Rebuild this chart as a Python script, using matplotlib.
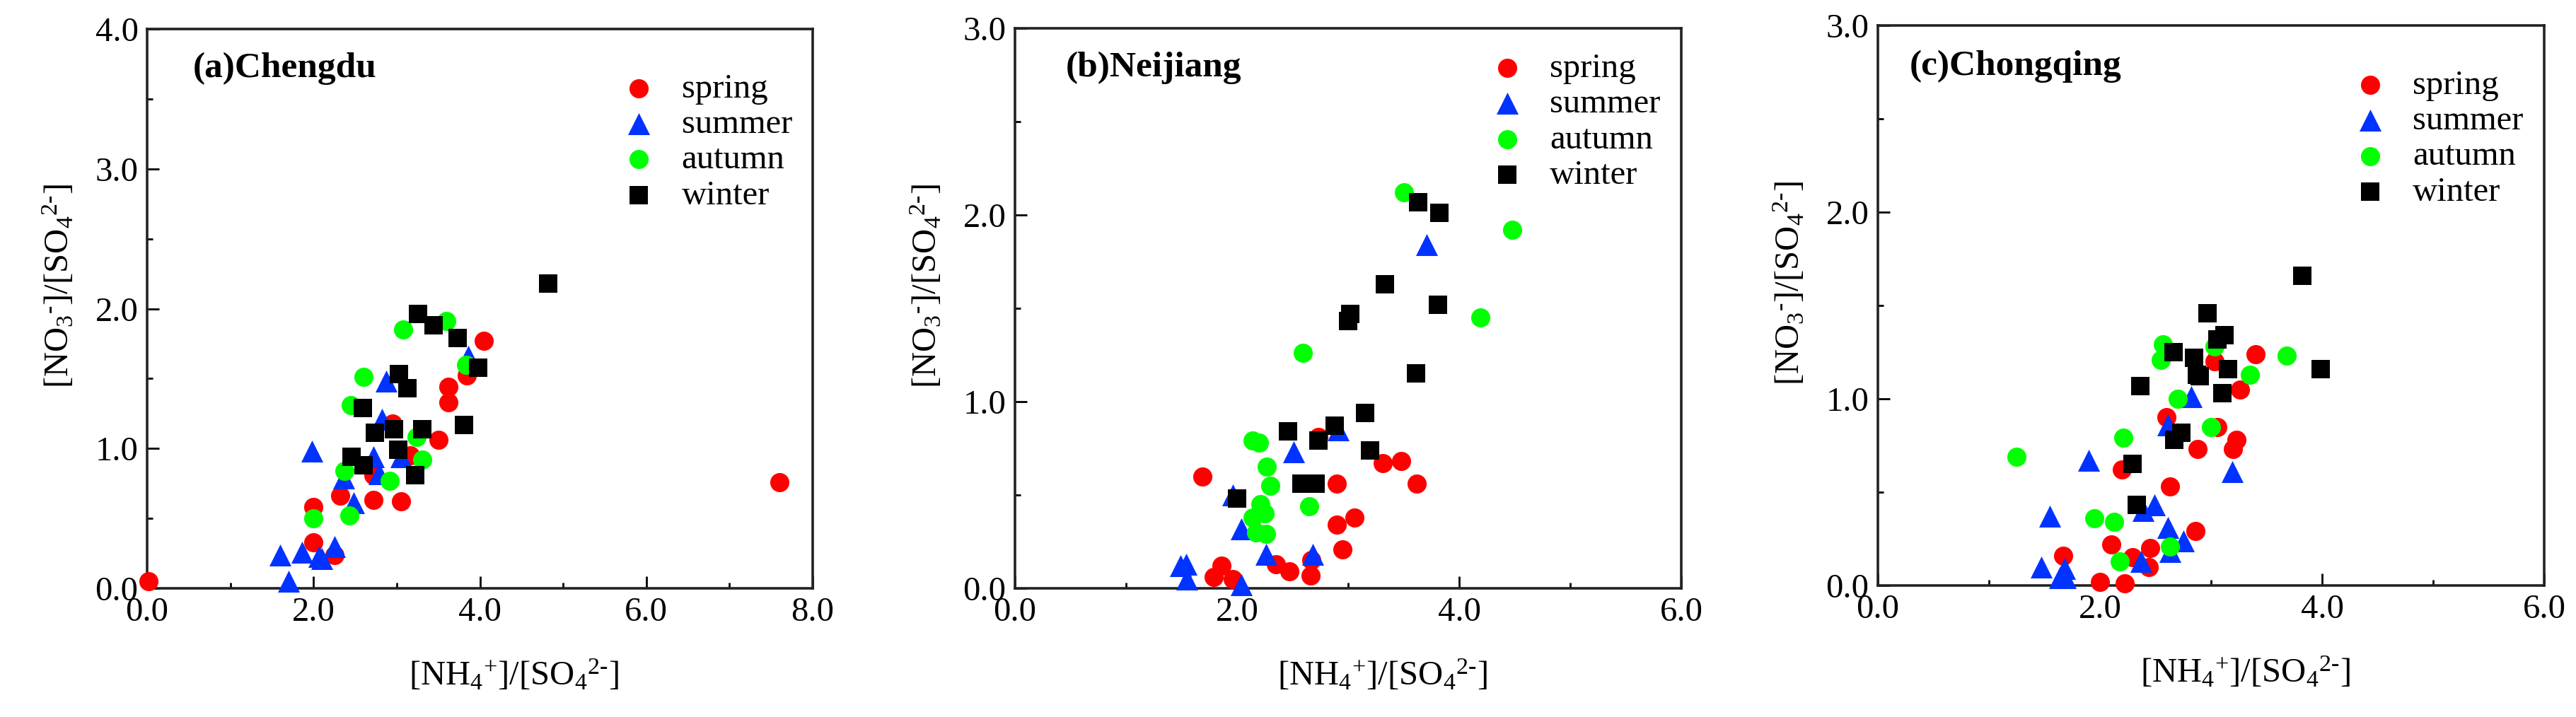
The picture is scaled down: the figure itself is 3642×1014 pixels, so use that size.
import matplotlib
matplotlib.use('Agg')
import matplotlib.pyplot as plt
from matplotlib.ticker import MultipleLocator, FormatStrFormatter

plt.rcParams['font.family'] = ['Liberation Serif', 'DejaVu Serif']
plt.rcParams['mathtext.fontset'] = 'custom'
plt.rcParams['mathtext.rm'] = 'Liberation Serif'
plt.rcParams['mathtext.default'] = 'regular'

seasons = ['spring', 'summer', 'autumn', 'winter']

# (a) Chengdu
cd_spring_x = [0.02, 7.6, 4.05, 3.84, 3.62, 3.62, 3.5, 3.16, 3.05, 2.72, 2.72, 2.32, 2.0, 2.0, 2.25, 2.95]
cd_spring_y = [0.05, 0.76, 1.77, 1.52, 1.44, 1.33, 1.06, 0.95, 0.62, 0.63, 0.81, 0.66, 0.58, 0.33, 0.24, 1.18]
cd_summer_x = [1.6, 1.7, 1.86, 2.07, 2.1, 2.25, 1.98, 2.36, 2.48, 2.72, 2.79, 2.82, 2.87, 3.05, 3.86]
cd_summer_y = [0.24, 0.05, 0.26, 0.23, 0.21, 0.30, 0.98, 0.79, 0.61, 0.94, 0.82, 1.21, 1.48, 0.94, 1.66]
cd_autumn_x = [2.0, 2.43, 2.37, 2.45, 2.6, 2.92, 3.08, 3.24, 3.31, 3.6, 3.83]
cd_autumn_y = [0.50, 0.52, 0.84, 1.31, 1.51, 0.77, 1.85, 1.08, 0.92, 1.91, 1.60]
cd_winter_x = [4.82, 3.26, 3.44, 3.73, 3.98, 3.03, 3.13, 2.59, 2.74, 2.97, 3.31, 3.81, 3.02, 2.46, 2.6, 3.22]
cd_winter_y = [2.18, 1.96, 1.88, 1.79, 1.58, 1.53, 1.43, 1.29, 1.11, 1.14, 1.14, 1.17, 0.99, 0.94, 0.88, 0.81]

# (b) Neijiang
nj_spring_x = [1.69, 1.79, 1.86, 1.96, 2.35, 2.47, 2.66, 2.67, 2.73, 2.9, 2.9, 2.95, 3.06, 3.31, 3.48, 3.62]
nj_spring_y = [0.60, 0.06, 0.12, 0.05, 0.13, 0.09, 0.07, 0.15, 0.81, 0.56, 0.34, 0.21, 0.38, 0.67, 0.68, 0.56]
nj_summer_x = [1.49, 1.54, 1.55, 1.96, 2.04, 2.04, 2.26, 2.51, 2.68, 2.91, 3.71]
nj_summer_y = [0.12, 0.13, 0.05, 0.50, 0.32, 0.02, 0.18, 0.73, 0.18, 0.85, 1.84]
nj_autumn_x = [2.14, 2.2, 2.27, 2.3, 2.21, 2.25, 2.14, 2.17, 2.26, 2.65, 2.59, 3.5, 4.19, 4.48]
nj_autumn_y = [0.79, 0.78, 0.65, 0.55, 0.45, 0.40, 0.38, 0.30, 0.29, 0.44, 1.26, 2.12, 1.45, 1.92]
nj_winter_x = [2.0, 2.46, 2.58, 2.71, 2.73, 2.88, 3.0, 3.02, 3.15, 3.2, 3.33, 3.61, 3.63, 3.82, 3.81]
nj_winter_y = [0.48, 0.84, 0.56, 0.56, 0.79, 0.87, 1.43, 1.47, 0.94, 0.74, 1.63, 1.15, 2.07, 2.01, 1.52]

# (c) Chongqing
cq_spring_x = [1.67, 2.0, 2.22, 2.1, 2.29, 2.45, 2.44, 2.86, 2.2, 2.63, 2.6, 2.88, 3.06, 3.2, 3.23, 3.03, 3.26, 3.4]
cq_spring_y = [0.16, 0.02, 0.01, 0.22, 0.15, 0.20, 0.10, 0.29, 0.62, 0.53, 0.90, 0.73, 0.85, 0.73, 0.78, 1.20, 1.05, 1.24]
cq_summer_x = [1.47, 1.55, 1.64, 1.69, 1.68, 1.9, 2.37, 2.39, 2.49, 2.61, 2.63, 2.75, 2.61, 2.82, 3.19]
cq_summer_y = [0.10, 0.37, 0.04, 0.04, 0.09, 0.67, 0.13, 0.40, 0.43, 0.31, 0.18, 0.24, 0.86, 1.01, 0.61]
cq_autumn_x = [1.25, 1.95, 2.13, 2.18, 2.21, 2.63, 2.57, 2.55, 2.7, 3.0, 3.03, 3.35, 3.68]
cq_autumn_y = [0.69, 0.36, 0.34, 0.13, 0.79, 0.21, 1.29, 1.21, 1.0, 0.85, 1.28, 1.13, 1.23]
cq_winter_x = [2.29, 2.33, 2.36, 2.66, 2.67, 2.73, 2.85, 2.87, 2.9, 2.97, 3.06, 3.12, 3.15, 3.1, 3.82, 3.99]
cq_winter_y = [0.65, 0.43, 1.07, 1.25, 0.78, 0.82, 1.22, 1.13, 1.12, 1.46, 1.32, 1.34, 1.16, 1.03, 1.66, 1.16]

panels = [
    ('(a)Chengdu', [(cd_spring_x, cd_spring_y), (cd_summer_x, cd_summer_y),
                    (cd_autumn_x, cd_autumn_y), (cd_winter_x, cd_winter_y)], 8, 4),
    ('(b)Neijiang', [(nj_spring_x, nj_spring_y), (nj_summer_x, nj_summer_y),
                     (nj_autumn_x, nj_autumn_y), (nj_winter_x, nj_winter_y)], 6, 3),
    ('(c)Chongqing', [(cq_spring_x, cq_spring_y), (cq_summer_x, cq_summer_y),
                      (cq_autumn_x, cq_autumn_y), (cq_winter_x, cq_winter_y)], 6, 3),
]

colors = ['#ff0000', '#0033ff', '#00ff00', '#000000']
markers = ['o', '^', 'o', 's']
sizes = [380, 500, 380, 360]

W, H = 3642, 1014
fig = plt.figure(figsize=(W / 100, H / 100), dpi=100)

# axes boxes in pixels: left, top, right, bottom
boxes = [(208, 41, 1149, 832), (1435, 40, 2377, 832), (2655, 36, 3597, 828)]
title_x = [0.069, 0.076, 0.047]
title_y = [0.929, 0.929, 0.927]
leg_top = [0.921, 0.956, 0.921]

xlab = r'[NH$_4{}^{+}$]/[SO$_4{}^{2\text{-}}$]'
ylab = r'[NO$_3{}^{\text{-}}$]/[SO$_4{}^{2\text{-}}$]'

fs = 35
for i, (title, data, xmax, ymax) in enumerate(panels):
    l, t, r, b = boxes[i]
    ax = fig.add_axes([l / W, 1 - b / H, (r - l) / W, (b - t) / H])
    for k, (xs, ys) in enumerate(data):
        ax.scatter(xs, ys, s=sizes[k], c=colors[k], marker=markers[k],
                   linewidths=0, clip_on=False, label=seasons[k], zorder=3 + k)
    ax.set_xlim(0, xmax)
    ax.set_ylim(0, ymax)
    ax.xaxis.set_major_locator(MultipleLocator(2))
    ax.xaxis.set_minor_locator(MultipleLocator(1))
    ax.yaxis.set_major_locator(MultipleLocator(1))
    ax.yaxis.set_minor_locator(MultipleLocator(0.5))
    ax.xaxis.set_major_formatter(FormatStrFormatter('%.1f'))
    ax.yaxis.set_major_formatter(FormatStrFormatter('%.1f'))
    ax.tick_params(which='major', direction='in', length=12, width=2, labelsize=fs, pad=9,
                   top=False, right=False)
    ax.tick_params(which='minor', direction='in', length=6, width=2, top=False, right=False)
    for sp in ax.spines.values():
        sp.set_linewidth(2.6)
        sp.set_color('#222222')
    ax.set_xlabel(xlab, fontsize=fs)
    ax.set_ylabel(ylab, fontsize=fs)
    ax.xaxis.set_label_coords(0.551, -0.124)
    ax.yaxis.set_label_coords(-0.107, 0.54)
    ax.text(title_x[i], title_y[i], title, transform=ax.transAxes, fontsize=37,
            fontweight='bold', va='center', ha='left')
    ax.legend(loc='upper left', bbox_to_anchor=(0.713, leg_top[i]), frameon=False,
              fontsize=fs, borderpad=0, borderaxespad=0, handlelength=1.0,
              handletextpad=0.74, labelspacing=0.13, scatterpoints=1)

fig.savefig('out.png', dpi=100)
